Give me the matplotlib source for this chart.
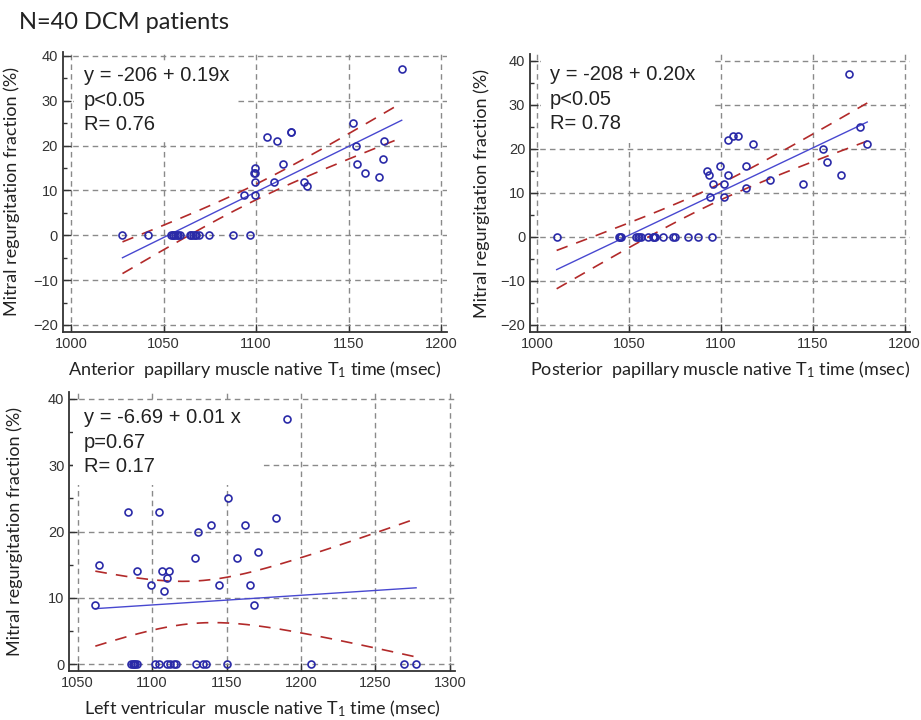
import numpy as np
import matplotlib
matplotlib.use("Agg")
import matplotlib.pyplot as plt
from matplotlib.ticker import MultipleLocator
from matplotlib.patches import Rectangle

plt.rcParams['mathtext.fontset'] = 'custom'
plt.rcParams['mathtext.rm'] = 'Lato'
plt.rcParams['mathtext.it'] = 'Lato:italic'

# ---------------------------------------------------------------
# data (msec, % MR fraction)
# ---------------------------------------------------------------
ant_t1 = [1027.8, 1041.5, 1054.1, 1055.2, 1057.2, 1059.0, 1064.4, 1065.8, 1067.3,
          1069.0, 1074.8, 1087.5, 1096.7, 1055.0, 1056.0, 1058.0, 1065.0, 1067.0,
          1093.2, 1099.4, 1099.4, 1099.0, 1099.2, 1099.4, 1105.7, 1111.4, 1118.8,
          1118.8, 1114.5, 1109.5, 1126.1, 1127.5, 1152.4, 1153.8, 1154.6, 1158.7,
          1166.5, 1168.6, 1169.2, 1178.7]
ant_mr = [0, 0, 0, 0, 0, 0, 0, 0, 0,
          0, 0, 0, 0, 0, 0, 0, 0, 0,
          9, 9, 12, 14, 14, 15, 22, 21, 23,
          23, 16, 12, 12, 11, 25, 20, 16, 14,
          13, 17, 21, 37]

post_t1 = [1010.5, 1044.7, 1045.8, 1053.8, 1054.9, 1056.5, 1060.1, 1062.9, 1064.1,
           1068.7, 1073.8, 1075.0, 1081.9, 1087.6, 1095.0, 1045.2, 1055.5, 1063.5,
           1169.7, 1103.9, 1106.4, 1109.5, 1117.3, 1092.3, 1093.6, 1099.5, 1103.7,
           1095.5, 1101.7, 1094.1, 1101.7, 1113.7, 1113.7, 1126.8, 1144.8, 1155.5,
           1157.7, 1165.5, 1175.5, 1179.7]
post_mr = [0, 0, 0, 0, 0, 0, 0, 0, 0,
           0, 0, 0, 0, 0, 0, 0, 0, 0,
           37, 22, 23, 23, 21, 15, 14, 16, 14,
           12, 12, 9, 9, 16, 11, 13, 12, 20,
           17, 14, 25, 21]

lv_t1 = [1085.6, 1087.4, 1088.7, 1090.0, 1101.9, 1104.8, 1109.7, 1112.2, 1114.4,
         1116.4, 1129.4, 1133.9, 1135.9, 1150.0, 1206.4, 1269.5, 1277.3, 1088.0,
         1061.9, 1064.5, 1083.8, 1089.6, 1099.4, 1104.6, 1106.8, 1107.7, 1110.2,
         1111.3, 1128.5, 1130.8, 1139.3, 1144.9, 1150.7, 1156.7, 1162.3, 1165.9,
         1168.3, 1171.0, 1183.3, 1190.3]
lv_mr = [0, 0, 0, 0, 0, 0, 0, 0, 0,
         0, 0, 0, 0, 0, 0, 0, 0, 0,
         9, 15, 23, 14, 12, 23, 14, 11, 13,
         14, 16, 20, 21, 12, 25, 16, 21, 12,
         9, 17, 22, 37]

ant_text = "y = -206 + 0.19x\np<0.05\nR= 0.76"
post_text = "y = -208 + 0.20x\np<0.05\nR= 0.78"
lv_text = "y = -6.69 + 0.01 x\np=0.67\nR= 0.17"

ylab = "Mitral regurgitation fraction (%)"
ant_xlab = r"Anterior  papillary muscle native T$_\mathrm{1}$ time (msec)"
post_xlab = r"Posterior  papillary muscle native T$_\mathrm{1}$ time (msec)"
lv_xlab = r"Left ventricular  muscle native T$_\mathrm{1}$ time (msec)"

PT_BLUE = "#2a2aa8"
LINE_BLUE = "#4848d0"
BAND_RED = "#b22a2a"
GRID = "#8a8a8a"


def fit_band(x, y):
    # least squares line with 95% confidence band of the mean
    x = np.asarray(x, float)
    y = np.asarray(y, float)
    n = len(x)
    b, a = np.polyfit(x, y, 1)
    resid = y - (a + b * x)
    s = np.sqrt(np.sum(resid ** 2) / (n - 2))
    xs = np.linspace(x.min(), x.max(), 200)
    yh = a + b * xs
    sxx = np.sum((x - x.mean()) ** 2)
    half = 2.024 * s * np.sqrt(1.0 / n + (xs - x.mean()) ** 2 / sxx)
    return xs, yh, yh - half, yh + half


def panel(rect, x, y, xlim, ylim, xticks, yticks, xlab, txt, txt_pos, ylab_x, box):
    ax = fig.add_axes(rect)
    ax.set_xlim(*xlim)
    ax.set_ylim(*ylim)
    ax.set_xticks(xticks)
    ax.set_yticks(yticks)
    ax.yaxis.set_minor_locator(MultipleLocator(5))
    for sp in ['top', 'right']:
        ax.spines[sp].set_visible(False)
    for sp in ['left', 'bottom']:
        ax.spines[sp].set_color('#333333')
        ax.spines[sp].set_linewidth(1.3)
    ax.tick_params(which='major', direction='in', length=6, width=1, colors='#333333',
                   labelsize=10.5, labelcolor='#333333')
    ax.tick_params(which='minor', direction='in', length=3, width=1, colors='#333333')
    for lab in ax.get_xticklabels() + ax.get_yticklabels():
        lab.set_fontfamily('Liberation Sans')
    ax.grid(True, which='major', color=GRID, ls=(0, (4, 3)), lw=1)
    ax.set_axisbelow(True)

    # white block behind the statistics text (hides grid there)
    ax.add_patch(Rectangle((box[0], box[1]), box[2] - box[0], box[3] - box[1],
                           transform=ax.transAxes, fc='white', ec='none', zorder=1.5))

    xs, yh, lo, hi = fit_band(x, y)
    ax.plot(xs, hi, color=BAND_RED, lw=1.2, ls=(0, (7, 5.5)), zorder=3)
    ax.plot(xs, lo, color=BAND_RED, lw=1.2, ls=(0, (7, 5.5)), zorder=3)
    ax.plot(xs, yh, color=LINE_BLUE, lw=1, zorder=3)
    ax.plot(x, y, 'o', mfc='none', mec=PT_BLUE, mew=1.2, ms=5, zorder=4)

    ax.text(txt_pos[0], txt_pos[1], txt, transform=fig.transFigure, fontsize=14.5,
            family='Liberation Sans', color='#222222', va='top', ha='left',
            linespacing=1.38, zorder=5)
    ax.set_xlabel(xlab, fontsize=13, family='Lato', color='#222222', labelpad=6)
    ax.set_ylabel(ylab, fontsize=13, family='Lato', color='#222222')
    ax.yaxis.set_label_coords(ylab_x, 0.5)
    return ax


fig = plt.figure(figsize=(9.21, 7.2), dpi=100)
fig.patch.set_facecolor('white')

fig.text(19 / 921, 1 - 29 / 720, "N=40 DCM patients", fontsize=17, family='Lato',
         color='#222222', va='baseline', ha='left')

panel([0.0681, 0.5389, 0.4173, 0.3893], ant_t1, ant_mr, (995.5, 1203.2), (-21.56, 40.96),
      [1000, 1050, 1100, 1150, 1200], [-20, -10, 0, 10, 20, 30, 40], ant_xlab, ant_text,
      (84 / 921, 1 - 66 / 720), -0.11, (0.03, 0.685, 0.456, 0.963))
panel([0.5755, 0.5385, 0.4126, 0.3865], post_t1, post_mr, (996, 1203), (-21.66, 41.5),
      [1000, 1050, 1100, 1150, 1200], [-20, -10, 0, 10, 20, 30, 40], post_xlab, post_text,
      (550 / 921, 1 - 65 / 720), -0.105, (0.03, 0.68, 0.48, 1.0))
panel([0.0752, 0.0681, 0.4188, 0.3879], lv_t1, lv_mr, (1044.4, 1303.4), (-1.0, 41.1),
      [1050, 1100, 1150, 1200, 1250, 1300], [0, 10, 20, 30, 40], lv_xlab, lv_text,
      (84 / 921, 1 - 408 / 720), -0.12, (0.01, 0.666, 0.494, 0.963))

fig.savefig("out.png", dpi=100, facecolor='white')
